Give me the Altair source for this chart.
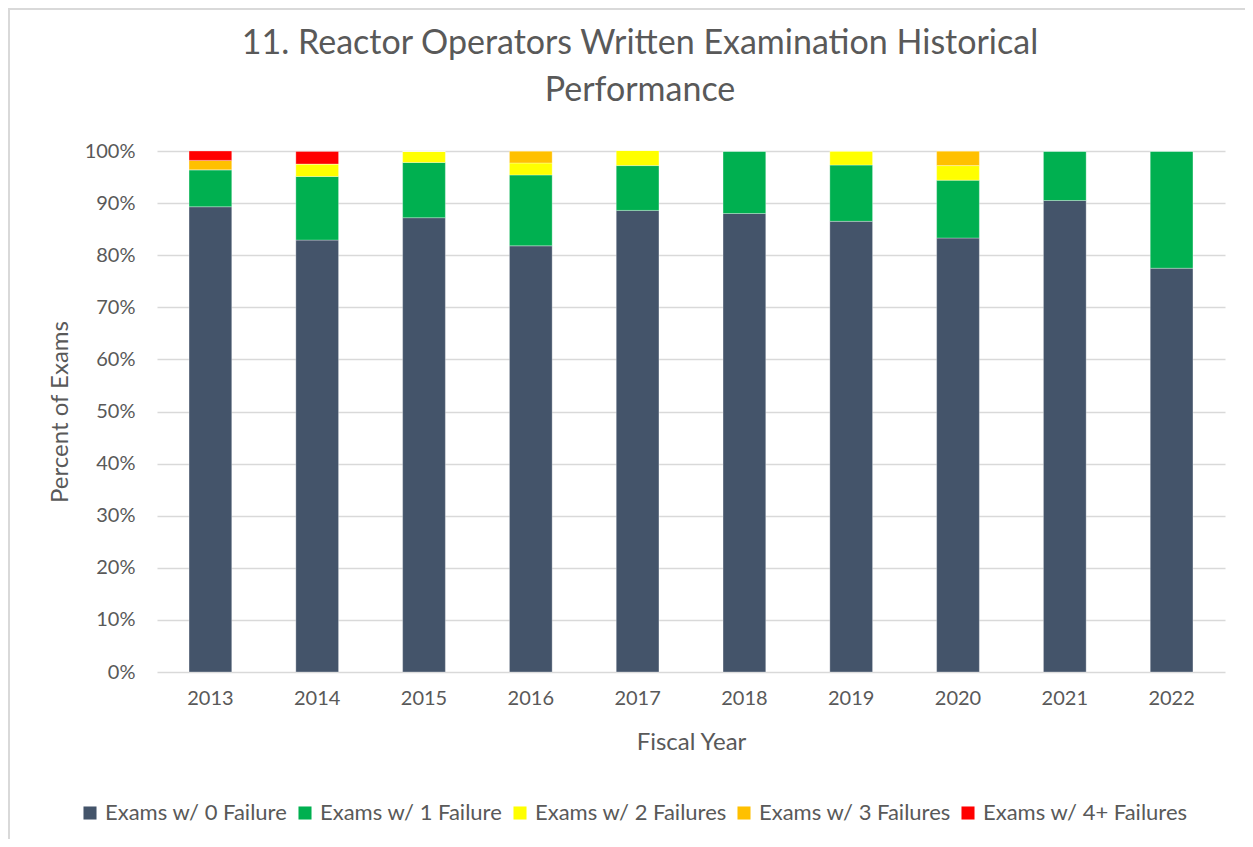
import altair as alt
import pandas as pd

years = ["2013", "2014", "2015", "2016", "2017", "2018", "2019", "2020", "2021", "2022"]
series = ["Exams w/ 0 Failure", "Exams w/ 1 Failure", "Exams w/ 2 Failures",
          "Exams w/ 3 Failures", "Exams w/ 4+ Failures"]
colors = ["#44546A", "#00B050", "#FFFF00", "#FFC000", "#FF0000"]

fail0 = [89.3, 82.9, 87.2, 81.8, 88.6, 88.0, 86.5, 83.3, 90.5, 77.5]
fail1 = [7.1, 12.2, 10.6, 13.6, 8.6, 12.0, 10.8, 11.1, 9.5, 22.5]
fail2 = [0.0, 2.4, 2.1, 2.3, 2.9, 0.0, 2.7, 2.8, 0.0, 0.0]
fail3 = [1.8, 0.0, 0.0, 2.3, 0.0, 0.0, 0.0, 2.8, 0.0, 0.0]
fail4 = [1.8, 2.4, 0.0, 0.0, 0.0, 0.0, 0.0, 0.0, 0.0, 0.0]

rows = []
for s_i, (name, vals) in enumerate(zip(series, [fail0, fail1, fail2, fail3, fail4])):
    for y, v in zip(years, vals):
        rows.append({"year": y, "series": name, "pct": v, "order": s_i})
df = pd.DataFrame(rows)

W, H = 1068, 521
PL, PT = 149, 143
FONT = "Lato"
GREY = "#595959"

bars = alt.Chart(df).mark_bar(stroke="white", strokeWidth=0.5, strokeOpacity=0.6).encode(
    x=alt.X("year:N", title="Fiscal Year",
            scale=alt.Scale(paddingInner=0.6, paddingOuter=0.3),
            axis=alt.Axis(labelAngle=0, ticks=False, domain=False, labelPadding=16,
                          titlePadding=22)),
    y=alt.Y("pct:Q", title="Percent of Exams", stack="zero",
            scale=alt.Scale(domain=[0, 100], nice=False),
            axis=alt.Axis(values=list(range(0, 101, 10)), labelExpr="datum.value + '%'",
                          ticks=False, domain=False, labelPadding=22, titlePadding=12,
                          gridColor="#D9D9D9", gridWidth=1.5)),
    color=alt.Color("series:N", scale=alt.Scale(domain=series, range=colors),
                    legend=alt.Legend(title=None, orient="none", legendX=-78, legendY=651,
                                      direction="horizontal", symbolType="square",
                                      symbolSize=170, symbolStrokeWidth=0,
                                      labelFontSize=22, labelColor=GREY, labelFont=FONT,
                                      labelLimit=0, columnPadding=6, labelOffset=4)),
    order=alt.Order("order:Q", sort="ascending"),
)

frame_df = pd.DataFrame({"k": [0]})
frame = alt.Chart(frame_df).mark_rect(fill=None, stroke="#D9D9D9", strokeWidth=2, clip=False).encode(
    x=alt.value(-PL + 1), x2=alt.value(W + 200),
    y=alt.value(-PT + 1), y2=alt.value(H + 400),
)

chart = alt.layer(frame, bars).properties(
    width=W, height=H,
    background="white",
    autosize=alt.AutoSizeParams(type="none"),
    padding={"left": PL, "top": PT, "right": 1237 - PL - W, "bottom": 831 - PT - H},
    title=alt.Title(["11. Reactor Operators Written Examination Historical", "Performance"],
                    fontSize=34, font=FONT, fontWeight="normal", color=GREY,
                    anchor="middle", frame="group", dx=-51, offset=-100, lineHeight=47),
).configure_view(stroke=None).configure_axis(
    labelFont=FONT, titleFont=FONT, labelColor=GREY, titleColor=GREY,
    labelFontSize=20, titleFontSize=24, titleFontWeight="normal",
)

chart.save("out.html", embed_options={"renderer": "svg", "actions": False})
